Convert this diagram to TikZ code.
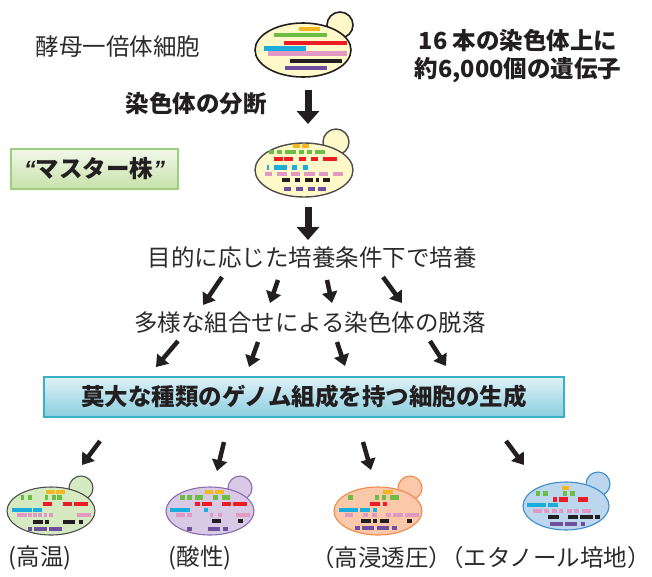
\documentclass[tikz,border=0pt]{standalone}
\usepackage{fontspec}
\setmainfont{Noto Sans CJK JP}
\newfontfamily\quotefont{Liberation Sans}
\usetikzlibrary{arrows.meta}

\definecolor{ink}{HTML}{231F20}
\definecolor{txtgray}{HTML}{2B2B2B}
\definecolor{chY}{HTML}{F3B724}
\definecolor{chG}{HTML}{6CBD45}
\definecolor{chR}{HTML}{ED1C24}
\definecolor{chC}{HTML}{1BAEDD}
\definecolor{chP}{HTML}{E198C3}
\definecolor{chK}{HTML}{231F20}
\definecolor{chV}{HTML}{6E4F9E}
\definecolor{cream}{HTML}{FFF8C9}
\definecolor{cellG}{HTML}{D6EAC2}
\definecolor{cellV}{HTML}{D8CAE5}
\definecolor{cellO}{HTML}{FBC8AA}
\definecolor{cellB}{HTML}{BCD6EE}
\definecolor{edgeG}{HTML}{4D4D4D}
\definecolor{edgeV}{HTML}{8A6AB0}
\definecolor{edgeO}{HTML}{F0894A}
\definecolor{edgeB}{HTML}{3B8CC8}

% horizontal chromosome pieces: colour, centre y, list of x-from/x-to pairs
\newcommand\chrbars[3]{%
  \foreach \xa/\xb in {#3} {\fill[#1] (\xa,#2-2.2) rectangle (\xb,#2+2.2);}}

\tikzset{
  txt/.style={font=\fontsize{23.5}{28}\selectfont, text=txtgray, inner sep=0pt},
  boldtxt/.style={font=\fontsize{23.5}{28}\selectfont\bfseries, text=ink, inner sep=0pt},
  bigarrow/.style={draw=ink, line width=7pt, -{Triangle[length=13pt,width=22pt]}},
  smallarrow/.style={draw=ink, line width=4.5pt, -{Triangle[length=11pt,width=15pt]}},
  masterbox/.style={draw={rgb,255:red,160;green,204;blue,128}, line width=1.2pt,
    top color={rgb,255:red,242;green,248;blue,234}, bottom color={rgb,255:red,198;green,225;blue,168},
    minimum width=167pt, minimum height=40pt, inner sep=0pt},
  bluebox/.style={draw={rgb,255:red,58;green,176;blue,200}, line width=1.5pt,
    top color={rgb,255:red,222;green,241;blue,247}, bottom color={rgb,255:red,138;green,206;blue,223},
    minimum width=520pt, minimum height=40pt, inner sep=0pt},
}

\begin{document}
\begin{tikzpicture}[x=1pt, y=-1pt]
\useasboundingbox (0,0) rectangle (652,576);

% ---- haploid yeast cell with whole chromosomes ----
\filldraw[fill=cream, draw=ink, line width=1.6pt] (340,25) circle (13);
\filldraw[fill=cream, draw=ink, line width=1.6pt] (303,50) ellipse (48 and 27);
\chrbars{chY}{29}{299/320}
\chrbars{chG}{35}{274/327}
\chrbars{chR}{43}{284/347}
\chrbars{chC}{48.5}{264/306}
\chrbars{chP}{53.5}{268/347}
\chrbars{chK}{61}{290/342}
\chrbars{chV}{68}{285/327}

\node[txt] (haploid) at (118,47) {酵母一倍体細胞};
\node[boldtxt, align=center] (genes) at (518,56) {16 本の染色体上に\\約6,000個の遺伝子};
\node[boldtxt] (split) at (196,104) {染色体の分断};

\coordinate (a1s) at (308,90);
\coordinate (a1e) at (308,124);
\draw[bigarrow] (a1s) -- (a1e);

% ---- master strain with fragmented chromosomes ----
\filldraw[fill=cream, draw=edgeG, line width=1.4pt] (336,142) circle (13);
\filldraw[fill=cream, draw=edgeG, line width=1.4pt] (304,170) ellipse (49 and 27);
\chrbars{chY}{146}{293/300,302/309}
\chrbars{chG}{152}{269/274,277/282,285/296,299/304,307/312,315/325}
\chrbars{chR}{159}{274/283,284/293,299/306,311/318,323/337}
\chrbars{chC}{167.5}{267/269,274/287,292/297,303/308}
\chrbars{chP}{174}{265/272,277/287,291/300,304/315,319/328,333/343}
\chrbars{chK}{180}{282/290,295/300,305/313,316/319,323/330}
\chrbars{chV}{189}{284/291,296/303,308/315,318/326}

\node[masterbox] (master) at (94.5,169) {\fontsize{23.5}{28}\selectfont\bfseries\color{ink}{\quotefont\itshape“}マスター株{\quotefont\itshape”}};

\coordinate (a2s) at (308,207);
\coordinate (a2e) at (308,240);
\draw[bigarrow] (a2s) -- (a2e);

\node[txt] (culture) at (312,258) {目的に応じた培養条件下で培養};

\coordinate (b1s) at (222,277); \coordinate (b1e) at (203,305);
\coordinate (b2s) at (278,280); \coordinate (b2e) at (270,303);
\coordinate (b3s) at (327,280); \coordinate (b3e) at (332,303);
\coordinate (b4s) at (383,277); \coordinate (b4e) at (402,303);
\foreach \i in {1,...,4} {\draw[smallarrow] (b\i s) -- (b\i e);}

\node[txt] (loss) at (310,323) {多様な組合せによる染色体の脱落};

\coordinate (c1s) at (178,341); \coordinate (c1e) at (156,367);
\coordinate (c2s) at (258,342); \coordinate (c2e) at (249,367);
\coordinate (c3s) at (337,342); \coordinate (c3e) at (345,366);
\coordinate (c4s) at (430,341); \coordinate (c4e) at (446,366);
\foreach \i in {1,...,4} {\draw[smallarrow] (c\i s) -- (c\i e);}

\node[bluebox] (diverse) at (304,397) {\fontsize{23.5}{28}\selectfont\bfseries\color{ink}莫大な種類のゲノム組成を持つ細胞の生成};

\coordinate (d1s) at (100,441); \coordinate (d1e) at (82,465);
\coordinate (d2s) at (224,442); \coordinate (d2e) at (217,471);
\coordinate (d3s) at (363,442); \coordinate (d3e) at (371,470);
\coordinate (d4s) at (506,441); \coordinate (d4e) at (524,465);
\foreach \i in {1,...,4} {\draw[smallarrow] (d\i s) -- (d\i e);}

% ---- adapted cells ----
% high temperature
\filldraw[fill=cellG, draw=edgeG, line width=1.1pt] (81,488) circle (12);
\filldraw[fill=cellG, draw=edgeG, line width=1.1pt] (51,511) ellipse (44 and 24);
\chrbars{chY}{492}{46/55,56/65}
\chrbars{chG}{497.5}{21/24,28/32,45/48,52/56,57/62}
\chrbars{chR}{504}{43/52,63/72,74/88}
\chrbars{chC}{510}{12/32,33/42}
\chrbars{chP}{515}{17/27,28/32,33/37,38/42,44/47,49/53,77/91}
\chrbars{chK}{522}{33/43,45/49,63/75,79/83}
\chrbars{chV}{529}{28/32,34/47,49/62}
\node[txt] (hot) at (40,558) {(高温)};

% acidic
\filldraw[fill=cellV, draw=edgeV, line width=1.1pt] (240,488) circle (12);
\filldraw[fill=cellV, draw=edgeV, line width=1.1pt] (210,511) ellipse (44 and 24);
\chrbars{chY}{492}{205/213,215/224}
\chrbars{chG}{497.5}{180/185,187/192,195/203,213/218,222/230}
\chrbars{chR}{504}{195/200,202/212,222/231,233/247}
\chrbars{chC}{510}{170/190,204/208}
\chrbars{chP}{515}{176/185,187/192,210/213,218/222,236/250}
\chrbars{chK}{521}{212/221,238/243}
\chrbars{chV}{529}{187/192,208/220,223/228}
\node[txt] (acid) at (200,558) {(酸性)};

% high osmotic pressure
\filldraw[fill=cellO, draw=edgeO, line width=1.1pt] (410,488) circle (12);
\filldraw[fill=cellO, draw=edgeO, line width=1.1pt] (378,511) ellipse (44 and 24);
\chrbars{chY}{492}{383/393}
\chrbars{chG}{497.5}{348/353,375/379,382/386,390/399}
\chrbars{chR}{504}{370/380,383/387}
\chrbars{chC}{510}{339/358,360/370,373/377}
\chrbars{chP}{515}{345/353,363/368,372/377,386/391,393/403,405/419}
\chrbars{chK}{521}{361/371,373/377,380/389,407/412}
\chrbars{chV}{528}{355/360,362/374,377/389,392/397}
\node[txt] (osmo) at (381.5,558) {（高浸透圧）};

% ethanol medium
\filldraw[fill=cellB, draw=edgeB, line width=1.1pt] (598,484) circle (12);
\filldraw[fill=cellB, draw=edgeB, line width=1.1pt] (566,506) ellipse (43 and 24);
\chrbars{chY}{488}{562/569}
\chrbars{chG}{493.5}{536/540,543/548,563/567,570/575}
\chrbars{chR}{499.5}{553/557,559/568,578/588}
\chrbars{chC}{505}{527/546,548/558}
\chrbars{chP}{511}{533/542,544/549,552/557,559/563,567/572,574/579,582/591}
\chrbars{chK}{517}{548/559,568/578,580/593,595/600}
\chrbars{chV}{524}{550/563,565/577,581/585}
\node[txt] (ethanol) at (545.5,558) {（エタノール培地）};
\end{tikzpicture}
\end{document}
